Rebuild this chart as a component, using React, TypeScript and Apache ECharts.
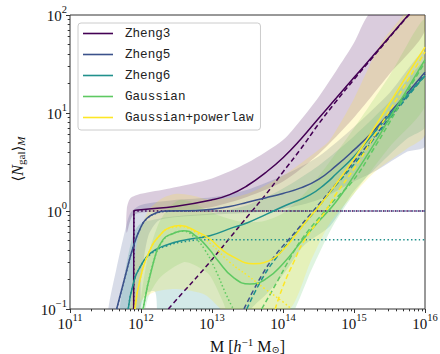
import React, { useEffect, useRef } from "react";
import * as echarts from "echarts";

// ---- data: [log10 M, <N>] pairs ----
const zheng3Total: number[][] = [[11.897, 0.1], [11.9, 1.0], [12, 1.03], [12.5, 1.12], [13, 1.3], [13.25, 1.47], [13.5, 1.82], [13.75, 2.45], [14, 3.5], [14.25, 5.4], [14.5, 8.8], [14.75, 14.2], [15, 23], [15.25, 37], [15.5, 60], [15.75, 97], [16, 155]];
const zheng3Sat: number[][] = [[12.385, 0.1], [12.6, 0.15], [12.83, 0.23], [13, 0.32], [13.25, 0.53], [13.5, 0.88], [13.75, 1.45], [14, 2.5], [14.25, 4.3], [14.5, 7.7], [14.75, 13.2], [15, 22], [15.25, 36], [15.5, 59], [15.75, 96], [16, 154]];
const zheng3Cen: number[][] = [[11.897, 0.1], [11.9, 1.0], [16, 1.0]];

const zheng5Total: number[][] = [[11.657, 0.1], [11.8, 0.25], [11.89, 0.43], [11.99, 0.665], [12.08, 0.84], [12.22, 0.96], [12.36, 1.0], [12.75, 1.01], [13, 1.04], [13.25, 1.11], [13.5, 1.23], [13.75, 1.36], [14, 1.51], [14.25, 1.72], [14.5, 2.1], [14.75, 2.9], [15, 4.2], [15.25, 6.3], [15.5, 10], [15.75, 16], [16, 26]];
const zheng5Sat: number[][] = [[13.45, 0.1], [13.7, 0.22], [13.9, 0.36], [14.1, 0.53], [14.45, 1.05], [14.75, 1.9], [15, 3.2], [15.25, 5.3], [15.5, 9], [15.75, 15], [16, 25]];
const zheng5Cen: number[][] = [[11.657, 0.1], [11.8, 0.25], [11.89, 0.43], [11.99, 0.66], [12.08, 0.83], [12.22, 0.95], [12.36, 0.99], [12.6, 1.0], [16, 1.0]];

const zheng6Total: number[][] = [[11.82, 0.1], [11.89, 0.18], [11.99, 0.27], [12.13, 0.37], [12.36, 0.45], [12.64, 0.51], [12.97, 0.56], [13.3, 0.68], [13.5, 0.76], [13.77, 0.93], [14.05, 1.15], [14.38, 1.46], [14.6, 1.9], [14.75, 2.4], [15, 3.6], [15.25, 5.9], [15.5, 9.5], [15.75, 15.2], [16, 24]];
const zheng6Sat: number[][] = [[13.49, 0.1], [13.7, 0.2], [13.9, 0.33], [14.1, 0.5], [14.45, 1.0], [14.75, 1.85], [15, 3.0], [15.25, 5.1], [15.5, 8.7], [15.75, 14.5], [16, 24]];
const zheng6Cen: number[][] = [[11.82, 0.1], [11.89, 0.18], [11.99, 0.27], [12.13, 0.36], [12.36, 0.44], [12.64, 0.49], [12.97, 0.51], [16, 0.51]];

const gaussTotal: number[][] = [[12.03, 0.1], [12.17, 0.29], [12.31, 0.51], [12.455, 0.59], [12.6, 0.63], [12.78, 0.55], [12.97, 0.4], [13.07, 0.32], [13.3, 0.21], [13.535, 0.18], [13.77, 0.205], [14, 0.29], [14.24, 0.47], [14.38, 0.62], [14.5, 0.78], [14.75, 1.25], [15, 2.3], [15.25, 4.4], [15.5, 8.8], [15.75, 17.4], [16, 35]];
const gaussSat: number[][] = [[13.7, 0.1], [13.9, 0.18], [14.1, 0.33], [14.26, 0.51], [14.59, 1.0], [14.75, 1.35], [15, 2.1], [15.25, 4.0], [15.5, 8.0], [15.75, 16.5], [16, 33]];
const gaussCen: number[][] = [[12.03, 0.1], [12.17, 0.29], [12.31, 0.5], [12.45, 0.59], [12.6, 0.62], [12.75, 0.54], [12.9, 0.4], [13.05, 0.25], [13.2, 0.14], [13.3, 0.1]];

const gplTotal: number[][] = [[11.915, 0.1], [11.986, 0.2], [12.127, 0.4], [12.27, 0.57], [12.41, 0.68], [12.55, 0.71], [12.78, 0.62], [12.97, 0.52], [13.11, 0.42], [13.3, 0.34], [13.58, 0.29], [13.8, 0.31], [14, 0.4], [14.2, 0.6], [14.38, 0.875], [14.5, 1.1], [14.75, 1.9], [15, 3.4], [15.25, 6.4], [15.5, 12.5], [15.75, 24.5], [16, 47]];
const gplSat: number[][] = [[13.89, 0.1], [14.0, 0.17], [14.15, 0.3], [14.3, 0.5], [14.6, 1.0], [14.75, 1.5], [15, 2.7], [15.25, 5.3], [15.5, 10.5], [15.75, 21], [16, 42]];
const gplCen: number[][] = [[11.915, 0.1], [11.986, 0.2], [12.127, 0.4], [12.27, 0.57], [12.41, 0.67], [12.55, 0.69], [12.78, 0.6], [13.0, 0.45], [13.25, 0.3], [13.5, 0.22], [13.75, 0.16], [14.0, 0.118], [14.12, 0.1]];

// ---- uncertainty bands: upper and lower edges ----
const zheng3BandUpper: number[][] = [[11.8, 1.05], [11.85, 1.35], [12.0, 1.5], [12.4, 1.7], [13.0, 2.15], [13.5, 3.1], [14.0, 5.3], [14.25, 8.5], [14.5, 14.5], [14.75, 27], [15.0, 52], [15.2, 100], [16.0, 400]];
const zheng3BandLower: number[][] = [[11.8, 0.6], [11.9, 0.92], [12.5, 1.0], [13.0, 1.1], [13.5, 1.4], [14.0, 2.0], [14.5, 3.8], [15.0, 9], [15.5, 25], [16.0, 70]];
const zheng5BandUpper: number[][] = [[11.54, 0.1], [11.65, 0.25], [11.78, 0.65], [11.85, 0.95], [12.0, 1.15], [12.5, 1.3], [13.0, 1.38], [13.5, 1.65], [14.0, 2.3], [14.5, 3.6], [15.0, 7.2], [15.5, 16], [16.0, 42]];
const zheng5BandLower: number[][] = [[11.54, 0.05], [11.95, 0.07], [12.0, 0.2], [12.1, 0.55], [12.25, 0.8], [12.6, 0.88], [13.5, 0.96], [14.0, 1.05], [14.5, 1.3], [15.0, 2.0], [15.32, 2.6], [15.74, 4.0], [16.0, 4.6]];
const zheng6BandUpper: number[][] = [[11.7, 0.1], [11.8, 0.3], [11.9, 0.6], [12.0, 0.75], [12.3, 0.85], [12.6, 0.9], [13.0, 0.95], [13.5, 1.15], [14.0, 1.7], [14.5, 2.9], [15.0, 5.8], [15.5, 13], [16.0, 33]];
const zheng6BandLower: number[][] = [[11.7, 0.05], [11.9, 0.06], [12.05, 0.14], [12.2, 0.15], [12.3, 0.05], [13.3, 0.05], [13.55, 0.1], [13.8, 0.15], [14.05, 0.25], [14.3, 0.45], [14.66, 0.7], [15.0, 1.6], [15.4, 3.2], [15.75, 5.5], [16.0, 7.2]];
const gaussBandUpper: number[][] = [[11.98, 0.1], [12.1, 0.35], [12.25, 0.75], [12.4, 1.1], [12.55, 1.3], [12.7, 1.25], [12.9, 1.05], [13.1, 0.9], [13.4, 0.78], [13.7, 0.78], [14.0, 0.95], [14.3, 1.5], [14.6, 2.8], [15.0, 7], [15.5, 24], [16.0, 90]];
const gaussBandLower: number[][] = [[11.98, 0.05], [12.1, 0.13], [12.27, 0.21], [12.6, 0.3], [12.8, 0.27], [12.97, 0.22], [13.15, 0.12], [13.3, 0.07], [13.8, 0.05], [14.1, 0.08], [14.4, 0.25], [14.7, 0.7], [15.0, 1.5], [15.5, 4.5], [16.0, 12]];
const gplBandUpper: number[][] = [[11.85, 0.1], [11.95, 0.5], [12.1, 1.0], [12.3, 1.35], [12.5, 1.5], [12.7, 1.45], [13.0, 1.3], [13.5, 1.5], [14.0, 2.3], [14.5, 4.2], [14.66, 5.3], [15.0, 14], [15.37, 50], [15.74, 110], [16.0, 200]];
const gplBandLower: number[][] = [[11.85, 0.05], [12.0, 0.12], [12.2, 0.15], [12.5, 0.16], [12.9, 0.14], [13.2, 0.09], [13.6, 0.07], [14.1, 0.1], [14.4, 0.32], [14.66, 0.75], [15.0, 1.5], [15.32, 2.6], [15.74, 4.3], [16.0, 6]];

const MODEL_NAMES = ["Zheng3", "Zheng5", "Zheng6", "Gaussian", "Gaussian+powerlaw"];
const MODEL_COLORS = ["#440154", "#3b528b", "#21918c", "#5ec962", "#fde725"];
const BAND_COLORS = ["rgba(68,1,84,0.2)", "rgba(59,82,139,0.2)", "rgba(33,145,140,0.2)", "rgba(94,201,98,0.2)", "rgba(253,231,37,0.2)"];

const X_TICKS = [1e11, 1e12, 1e13, 1e14, 1e15, 1e16];
const Y_TICKS = [0.1, 1, 10, 100];
const MINOR_MULT = [2, 3, 4, 5, 6, 7, 8, 9];
const X_DECADES = [1e11, 1e12, 1e13, 1e14, 1e15];
const Y_DECADES = [0.1, 1, 10];

const X_MINOR = X_DECADES.flatMap((d) => MINOR_MULT.map((m) => m * d));
const Y_MINOR = Y_DECADES.flatMap((d) => MINOR_MULT.map((m) => m * d));

const toXY = (arr: number[][]) => arr.map(([lm, n]) => [Math.pow(10, lm), n]);

const BANDS = [
  { upper: zheng3BandUpper, lower: zheng3BandLower, color: BAND_COLORS[0] },
  { upper: zheng5BandUpper, lower: zheng5BandLower, color: BAND_COLORS[1] },
  { upper: zheng6BandUpper, lower: zheng6BandLower, color: BAND_COLORS[2] },
  { upper: gaussBandUpper, lower: gaussBandLower, color: BAND_COLORS[3] },
  { upper: gplBandUpper, lower: gplBandLower, color: BAND_COLORS[4] },
];

const MODELS = [
  { total: zheng3Total, sat: zheng3Sat, cen: zheng3Cen },
  { total: zheng5Total, sat: zheng5Sat, cen: zheng5Cen },
  { total: zheng6Total, sat: zheng6Sat, cen: zheng6Cen },
  { total: gaussTotal, sat: gaussSat, cen: gaussCen },
  { total: gplTotal, sat: gplSat, cen: gplCen },
];

const SERIF = "'Liberation Serif', 'DejaVu Serif', serif";

const powLabel = (v: number) => {
  const e = Math.round(Math.log10(v));
  const s = e < 0 ? "\u2212" + Math.abs(e) : String(e);
  return `{b|10}{s|${s}}`;
};

const labelRich = {
  b: { fontSize: 15, fontFamily: SERIF, color: "#111", lineHeight: 16, verticalAlign: "bottom" },
  s: { fontSize: 10.5, fontFamily: SERIF, color: "#111", lineHeight: 11, padding: [0, 0, 8, 0], verticalAlign: "bottom" },
};

export default function App() {
  const ref = useRef<HTMLDivElement>(null);
  useEffect(() => {
    document.body.style.margin = "0";
    if (!ref.current) return;
    const chart = echarts.init(ref.current, null, { renderer: "svg" });

    const series: any[] = [];
    series.push({
      type: "custom",
      name: "bands",
      coordinateSystem: "cartesian2d",
      clip: true,
      silent: true,
      z: 1,
      data: BANDS.map(() => [1e13, 1]),
      renderItem: (params: any, api: any) => {
        const b = BANDS[params.dataIndex];
        const pts = [...b.upper, ...b.lower.slice().reverse()].map(([lm, n]) =>
          api.coord([Math.pow(10, lm), n])
        );
        return { type: "polygon", shape: { points: pts, smooth: 0.25 }, style: { fill: b.color, stroke: "none" } };
      },
    });

    MODELS.forEach((m, i) => {
      const color = MODEL_COLORS[i];
      const common = {
        type: "line",
        showSymbol: false,
        symbol: "none",
        silent: true,
        clip: true,
        z: 3,
        itemStyle: { color },
      };
      series.push({
        ...common,
        name: MODEL_NAMES[i] + " centrals",
        data: toXY(m.cen),
        smooth: i === 0 ? false : 0.5,
        lineStyle: { color, width: 1.5, type: [1.5, 2.4] },
      });
      series.push({
        ...common,
        name: MODEL_NAMES[i] + " satellites",
        data: toXY(m.sat),
        smooth: 0.5,
        lineStyle: { color, width: 1.5, type: [5, 3] },
      });
      series.push({
        ...common,
        name: MODEL_NAMES[i],
        data: toXY(m.total),
        smooth: 0.5,
        lineStyle: { color, width: 1.5, type: "solid" },
      });
    });

    const option: any = {
      animation: false,
      grid: {
        left: 70, right: 15, top: 15, bottom: 45,
        outerBoundsMode: "none",
        containLabel: false,
        show: true, borderColor: "#333", borderWidth: 1, backgroundColor: "transparent",
      },
      legend: {
        data: MODEL_NAMES,
        orient: "vertical",
        left: 78,
        top: 23,
        icon: "rect",
        itemWidth: 30,
        itemHeight: 1.6,
        itemGap: 0,
        padding: [0, 7, 2, 5],
        backgroundColor: "rgba(255,255,255,0.8)",
        borderColor: "#cccccc",
        borderWidth: 1,
        borderRadius: 3,
        selectedMode: false,
        textStyle: { fontFamily: "'Liberation Mono', 'DejaVu Sans Mono', monospace", fontSize: 12.6, color: "#222", lineHeight: 21, padding: [0, 0, 0, 7] },
      },
      xAxis: [
        {
          type: "log",
          logBase: 10,
          min: 1e11,
          max: 1e16,
          gridIndex: 0,
          axisLine: { show: false },
          splitLine: { show: false },
          axisTick: { show: true, length: 4, lineStyle: { color: "#333" }, customValues: X_TICKS },
          axisLabel: { margin: 6, formatter: powLabel, rich: labelRich, customValues: X_TICKS },
          name: "M [{it|h}{sup|\u22121} M{sub|\u2299}]",
          nameLocation: "middle",
          nameGap: 27,
          nameTextStyle: {
            fontFamily: SERIF,
            fontSize: 16,
            color: "#111",
            rich: {
              it: { fontFamily: SERIF, fontSize: 16, fontStyle: "italic", color: "#111" },
              sup: { fontFamily: SERIF, fontSize: 11, color: "#111", padding: [0, 0, 9, 0] },
              sub: { fontFamily: "'DejaVu Serif', serif", fontSize: 10, color: "#111", padding: [6, 0, 0, 0] },
            },
          },
        },
        {
          type: "log",
          logBase: 10,
          min: 1e11,
          max: 1e16,
          gridIndex: 0,
          position: "bottom",
          axisLine: { show: false },
          splitLine: { show: false },
          axisLabel: { show: false },
          axisTick: { show: true, length: 2.3, lineStyle: { color: "#333" }, customValues: X_MINOR },
        },
      ],
      yAxis: [
        {
          type: "log",
          logBase: 10,
          min: 0.1,
          max: 100,
          gridIndex: 0,
          axisLine: { show: false },
          splitLine: { show: false },
          axisTick: { show: true, length: 4, lineStyle: { color: "#333" }, customValues: Y_TICKS },
          axisLabel: { margin: 3, formatter: powLabel, rich: labelRich, customValues: Y_TICKS },
          name: "\u27E8{it|N}{sub|gal}\u27E9{subit|M}",
          nameLocation: "middle",
          nameGap: 44,
          nameTextStyle: {
            fontFamily: "'DejaVu Serif', serif",
            fontSize: 15,
            color: "#111",
            padding: [0, 0, 0, 6],
            rich: {
              it: { fontFamily: SERIF, fontSize: 16, fontStyle: "italic", color: "#111" },
              sub: { fontFamily: SERIF, fontSize: 11, color: "#111", padding: [6, 0, 0, 0] },
              subit: { fontFamily: SERIF, fontSize: 11, fontStyle: "italic", color: "#111", padding: [6, 0, 0, 0] },
            },
          },
        },
        {
          type: "log",
          logBase: 10,
          min: 0.1,
          max: 100,
          gridIndex: 0,
          position: "left",
          axisLine: { show: false },
          splitLine: { show: false },
          axisLabel: { show: false },
          axisTick: { show: true, length: 2.3, lineStyle: { color: "#333" }, customValues: Y_MINOR },
        },
      ],
      series,
    };
    chart.setOption(option);
    return () => chart.dispose();
  }, []);
  return <div ref={ref} style={{ width: 440, height: 354 }} />;
}
